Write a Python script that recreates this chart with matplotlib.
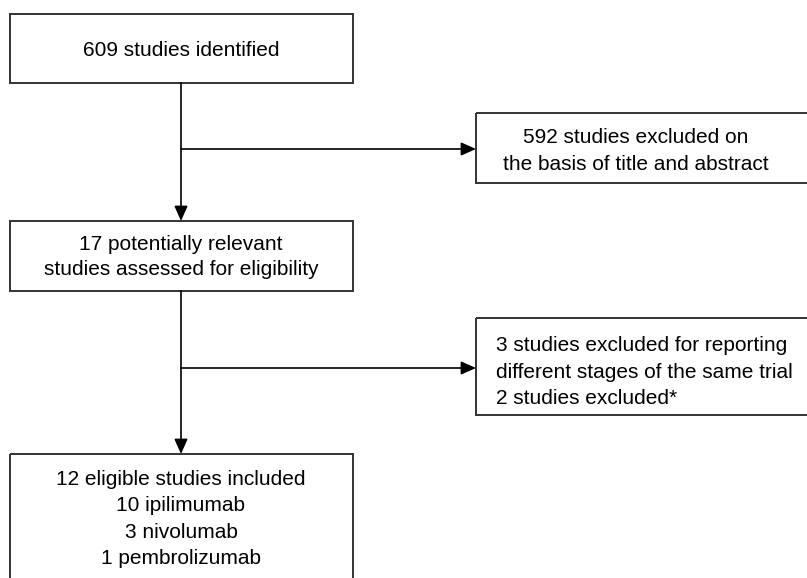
import matplotlib.pyplot as plt
from matplotlib.patches import Rectangle

plt.rcParams['font.family'] = ['Liberation Sans', 'DejaVu Sans']

# box texts
textos = [
    "609 studies identified",
    "592 studies excluded on\nthe basis of title and abstract",
    "17 potentially relevant\nstudies assessed for eligibility",
    "3 studies excluded for reporting\ndifferent stages of the same trial\n2 studies excluded*",
    "12 eligible studies included\n10 ipilimumab\n3 nivolumab\n1 pembrolizumab",
]

# layout in pixels: x0, y0, x1, y1
cajas = [
    (10, 14, 353, 83),
    (476, 113, 812, 183),
    (10, 221, 353, 291),
    (476, 318, 812, 415),
    (10, 454, 353, 600),
]

fig = plt.figure(figsize=(8.07, 5.78), dpi=100)
ax = fig.add_axes([0, 0, 1, 1])
ax.set_xlim(0, 807)
ax.set_ylim(578, 0)
ax.axis('off')

for (x0, y0, x1, y1) in cajas:
    ax.add_patch(Rectangle((x0, y0), x1 - x0, y1 - y0, fill=False,
                           edgecolor='#333333', lw=1.4))

fs = 15
ax.text(181, 51, textos[0], ha='center', va='center', fontsize=fs)
ax.text(636, 151, textos[1], ha='center', va='center', fontsize=fs, linespacing=1.47)
ax.text(181, 257, textos[2], ha='center', va='center', fontsize=fs, linespacing=1.36)
ax.text(496, 372, textos[3], ha='left', va='center', fontsize=fs, linespacing=1.47)
ax.text(181, 519, textos[4], ha='center', va='center', fontsize=fs, linespacing=1.47)

flecha = dict(arrowstyle='-|>,head_length=0.9,head_width=0.4', color='black',
              lw=1.2, shrinkA=0, shrinkB=0, mutation_scale=10)

cx = 181
ax.annotate('', xy=(cx, 221), xytext=(cx, 83), arrowprops=flecha)
ax.annotate('', xy=(cx, 454), xytext=(cx, 291), arrowprops=flecha)
ax.annotate('', xy=(476, 149), xytext=(cx, 149), arrowprops=flecha)
ax.annotate('', xy=(476, 368), xytext=(cx, 368), arrowprops=flecha)

fig.savefig('out.png', dpi=100)
